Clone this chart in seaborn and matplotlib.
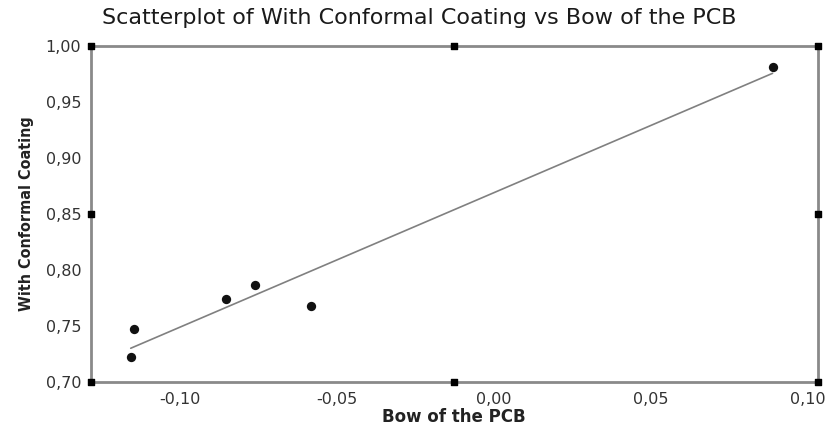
import numpy as np
import pandas as pd
import matplotlib
matplotlib.use('Agg')
import matplotlib.pyplot as plt
import seaborn as sns

# data
bow = [-0.1156, -0.1146, -0.0854, -0.0761, -0.0581, 0.0888]
coating = [0.7224, 0.7477, 0.7746, 0.7866, 0.7680, 0.9814]
df = pd.DataFrame({'Bow of the PCB': bow, 'With Conformal Coating': coating})

xticks = [-0.10, -0.05, 0.00, 0.05, 0.10]
yticks = [0.70, 0.75, 0.80, 0.85, 0.90, 0.95, 1.00]

sns.set_style('white')
plt.rcParams['font.family'] = ['DejaVu Sans']

fig = plt.figure(figsize=(8.26, 4.26), dpi=100)
ax = fig.add_axes([0.110, 0.103, 0.880, 0.789])

sns.regplot(data=df, x='Bow of the PCB', y='With Conformal Coating', ax=ax,
            ci=None, truncate=True,
            scatter_kws={'color': '#111111', 's': 45, 'marker': 'o', 'linewidths': 0, 'alpha': 1},
            line_kws={'color': '#808080', 'linewidth': 1.2})

ax.set_xlim(-0.1283, 0.1032)
ax.set_ylim(0.70, 1.00)
ax.set_xticks(xticks)
ax.set_yticks(yticks)
ax.set_xticklabels([f'{t:.2f}'.replace('.', ',') for t in xticks], fontsize=11.5, color='#333333')
ax.set_yticklabels([f'{t:.2f}'.replace('.', ',') for t in yticks], fontsize=11.5, color='#333333')
ax.tick_params(axis='both', direction='out', length=4, width=1.2, color='#777777', pad=3)

for s in ax.spines.values():
    s.set_color('#8a8a8a')
    s.set_linewidth(2)

ax.set_xlabel('Bow of the PCB', fontsize=12, fontweight='bold', color='#222222', labelpad=1)
ax.set_ylabel('With Conformal Coating', fontsize=11.5, fontweight='bold', fontstretch='condensed',
              color='#222222', labelpad=8)
ax.set_title('Scatterplot of With Conformal Coating vs Bow of the PCB',
             fontsize=16, color='#1a1a1a', x=0.452, pad=16)

# selection handles on the frame (corners and midpoints)
hx = [0, 0.5, 1, 0, 1, 0, 0.5, 1]
hy = [0, 0, 0, 0.5, 0.5, 1, 1, 1]
ax.scatter(hx, hy, transform=ax.transAxes, marker='s', s=22, color='black',
           clip_on=False, zorder=5)

plt.savefig('out.png', dpi=100)
